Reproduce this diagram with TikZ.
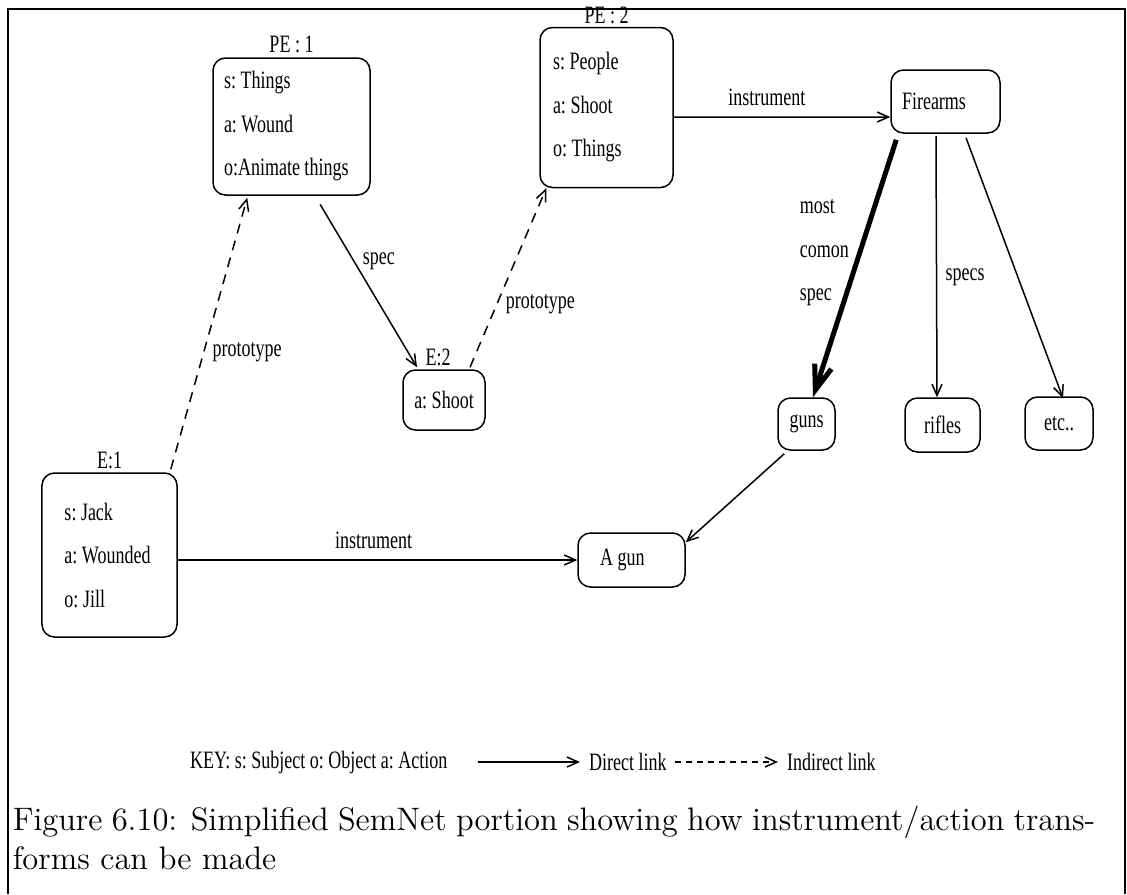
\documentclass[tikz,border=0pt]{standalone}
\usepackage{fontspec}
\newfontfamily\semfont[FakeStretch=0.72]{Liberation Serif}
\usetikzlibrary{positioning,arrows.meta}

\begin{document}
\begin{tikzpicture}[x=0.4pt, y=-0.4pt, line width=0.6pt,
      >={Straight Barb[length=4.5pt,width=4pt]},
      every node/.append style={font=\semfont\frenchspacing\fontsize{10}{17.4}\selectfont},
      box/.style={draw, rounded corners=5pt, align=flush left},
      tag/.style={inner sep=1pt},
      link/.style={->},
      indirect/.style={->, dash pattern=on 4pt off 3pt}]
    \tikzstyle{caption} = [anchor=west, inner sep=0pt, font=\rmfamily\fontsize{13}{15}\selectfont]
    \useasboundingbox (0,0) rectangle (1127,894);
    \draw (8,894) -- (8,9) -- (1125,9) -- (1125,894);

    % events and prototype events
    \node[box, text width=54pt, inner xsep=4.4pt, minimum height=54.8pt] (pe1) at (291.5,126.5)
      {s: Things\\a: Wound\\o:Animate things};
    \node[box, text width=42.8pt, inner xsep=5.2pt, minimum height=64pt] (pe2) at (606.5,107.5)
      {s: People\\a: Shoot\\o: Things};
    \node[box, text width=36pt, inner xsep=9pt, minimum height=65.6pt] (e1) at (109.5,555)
      {s: Jack\\a:~Wounded\\o: Jill};
    \node[box, minimum width=32.8pt, minimum height=24pt] (e2) at (444,400) {a: Shoot};
    \node[tag, above=0.5pt of pe1] (pe1tag) {PE : 1};
    \node[tag, above=0pt of pe2] (pe2tag) {PE : 2};
    \node[tag, above=0pt of e1] (e1tag) {E:1};
    \node[tag, above=0pt of e2, xshift=-2.4pt] (e2tag) {E:2};

    % instruments
    \node[box, text width=34.8pt, inner xsep=4.4pt, minimum height=25.2pt] (fire) at (945.5,101.5) {Firearms};
    \node[box, minimum width=22.8pt, minimum height=20.8pt] (guns) at (806.5,424) {guns};
    \node[box, minimum width=30pt, minimum height=21.6pt] (rifles) at (942.5,425) {rifles};
    \node[box, minimum width=27.2pt, minimum height=21.2pt] (etc) at (1059,423.5) {\raisebox{-1.6pt}{etc..}};
    \node[box, text width=25.2pt, inner xsep=8.8pt, minimum height=21.6pt] (agun) at (631.5,560) {A gun};

    % links
    \draw[link] ([yshift=-3.8pt]pe2.east) -- node[above=1pt, pos=0.43] (instr2) {instrument} ([yshift=-6.2pt]fire.west);
    \draw[line width=2pt, -{Straight Barb[length=10pt,width=7pt]}] ([xshift=2.4pt,yshift=-2.4pt]fire.south west)
      -- node[left, pos=0.44, align=flush left] (mostlab) {most\\comon\\spec} ([xshift=2.6pt]guns.north);
    \draw[link] ([xshift=-3.8pt,yshift=-0.8pt]fire.south) -- node[right, pos=0.54] (specslab) {specs} ([xshift=-2.2pt]rifles.north);
    \draw[link] ([xshift=8.2pt,yshift=-1.6pt]fire.south) -- ([xshift=1.6pt,yshift=-0.8pt]etc.north);
    \draw[link] ([xshift=2.8pt,yshift=-1.2pt]guns.south west) -- ([yshift=-4pt]agun.north east);
    \draw[link] (e1.east |- agun.west) -- node[above=1pt, pos=0.49] (instr1) {instrument} (agun.west);
    \draw[link, shorten <=4pt] ([xshift=9.4pt]pe1.south) -- node[right, pos=0.38] (speclab) {spec} ([xshift=-10.8pt,yshift=0.8pt]e2.north);
    \draw[indirect] ([xshift=-2.8pt,yshift=1.2pt]e1.north east) -- node[right, pos=0.43] (proto1) {prototype} ([xshift=14pt,yshift=-0.8pt]pe1.south west);
    \draw[indirect] ([xshift=10.4pt,yshift=0.8pt]e2.north) -- node[right, pos=0.35] (proto2) {prototype} ([xshift=2.8pt]pe2.south west);

    % key
    \node[anchor=west] (keytext) at (181,762) {KEY: s: Subject o: Object a: Action};
    \coordinate (dstart) at (478,762);
    \node[anchor=west] (dirlab) at (580,762) {Direct link};
    \coordinate (istart) at (675,762);
    \node[anchor=west] (indlab) at (778,762) {Indirect link};
    \draw[link] (dstart) -- (dirlab);
    \draw[indirect, dash pattern=on 2.4pt off 2pt] (istart) -- (indlab);

    \node[caption] (cap1) at (12,822)
      {\makebox[433pt][s]{Figure 6.10: Simplified SemNet portion showing how instrument/action trans-}};
    \node[caption] (cap2) at (12,858) {forms can be made};
\end{tikzpicture}
\end{document}
